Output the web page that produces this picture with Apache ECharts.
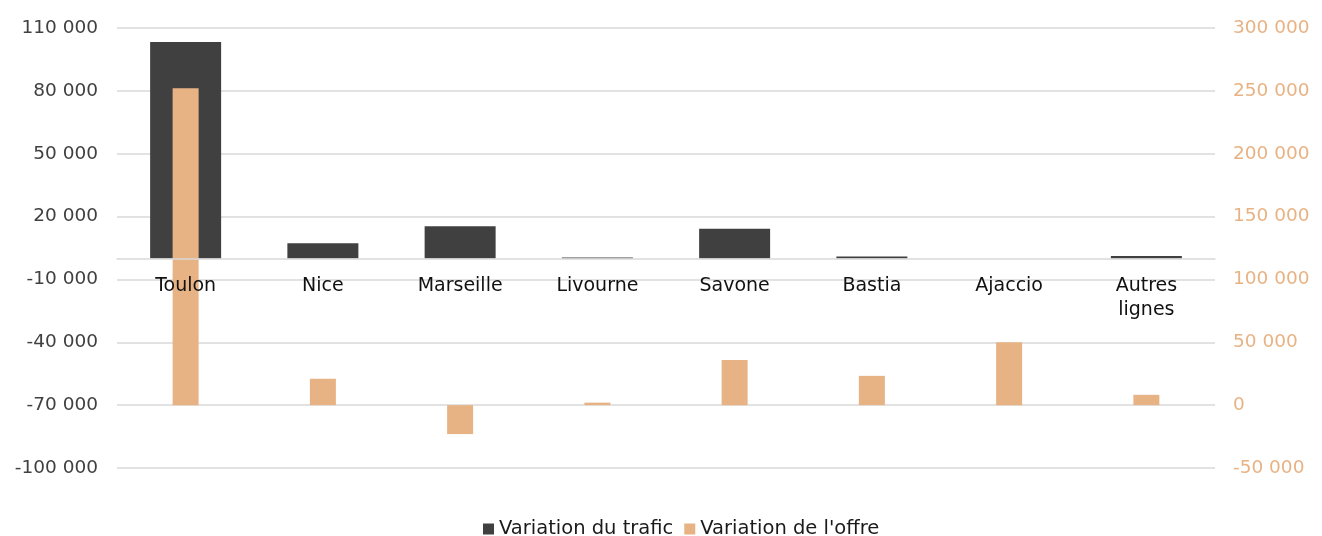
<!DOCTYPE html>
<html>
<head>
<meta charset="utf-8">
<script src="https://cdn.jsdelivr.net/npm/echarts@6/dist/echarts.min.js"></script>
<style>
  html, body { margin: 0; padding: 0; background: #fff; }
  #chart { width: 1322px; height: 536px; }
</style>
</head>
<body>
<div id="chart"></div>
<script>
// catégories et valeurs
const categories = ['Toulon', 'Nice', 'Marseille', 'Livourne', 'Savone', 'Bastia', 'Ajaccio', 'Autres lignes']
const trafic = [103300, 7300, 15400, 500, 14200, 1000, 0, 1200]
const offre = [252000, 21000, -23000, 2000, 36000, 23300, 50000, 8200]

const FONT = 'DejaVu Sans'

// 110000 -> "110 000"
const fmt = (v) => {
  const s = String(Math.abs(v)).replace(/\B(?=(\d{3})+(?!\d))/g, ' ')
  return (v < 0 ? '-' : '') + s
}

const myChart = echarts.init(document.getElementById('chart'))

const option = {
  animation: false,
  textStyle: { fontFamily: FONT },
  grid: { left: 117, right: 107, top: 28, bottom: 68 },
  legend: {
    top: 519,
    left: 483,
    padding: 0,
    icon: 'rect',
    itemWidth: 11,
    itemHeight: 11,
    itemGap: 11,
    textStyle: { fontFamily: FONT, fontSize: 19.5, color: '#1a1a1a' },
    data: ['Variation du trafic', "Variation de l'offre"],
  },
  xAxis: [
    {
      type: 'category',
      data: categories,
      position: 'bottom',
      z: 5,
      axisLine: { onZero: false, lineStyle: { color: '#d9d9d9', width: 1.5 } },
      axisTick: { show: false },
      axisLabel: {
        margin: 16,
        fontFamily: FONT,
        fontSize: 19,
        color: '#111',
        lineHeight: 24,
        formatter: (v) => v.replace(' ', '\n'),
      },
    },
    {
      type: 'category',
      data: categories,
      position: 'top',
      show: false,
    },
  ],
  yAxis: [
    {
      type: 'value',
      min: -100000,
      max: 110000,
      interval: 30000,
      axisLine: { show: false },
      axisTick: { show: false },
      splitLine: { lineStyle: { color: '#d9d9d9', width: 1.5 } },
      axisLabel: { margin: 19, fontFamily: FONT, fontSize: 18.5, color: '#404040', formatter: fmt },
    },
    {
      type: 'value',
      min: -50000,
      max: 300000,
      interval: 50000,
      axisLine: { show: false },
      axisTick: { show: false },
      splitLine: { show: false },
      axisLabel: { margin: 18, fontFamily: FONT, fontSize: 18.5, color: '#e8b384', formatter: fmt },
    },
  ],
  series: [
    {
      name: 'Variation du trafic',
      type: 'bar',
      xAxisIndex: 0,
      yAxisIndex: 0,
      data: trafic,
      barWidth: 71,
      itemStyle: { color: '#404040' },
    },
    {
      name: "Variation de l'offre",
      type: 'bar',
      xAxisIndex: 1,
      yAxisIndex: 1,
      data: offre,
      barWidth: 26,
      z: 3,
      itemStyle: { color: '#e8b384' },
    },
  ],
}

myChart.setOption(option)

// placer l'axe des catégories sur le zéro de l'axe de gauche (ligne + libellés)
const yZero = myChart.convertToPixel({ yAxisIndex: 0 }, 0)
const yMin = myChart.convertToPixel({ yAxisIndex: 0 }, -100000)
myChart.setOption({
  xAxis: [{ offset: -(yMin - yZero) }, {}],
})
</script>
</body>
</html>
